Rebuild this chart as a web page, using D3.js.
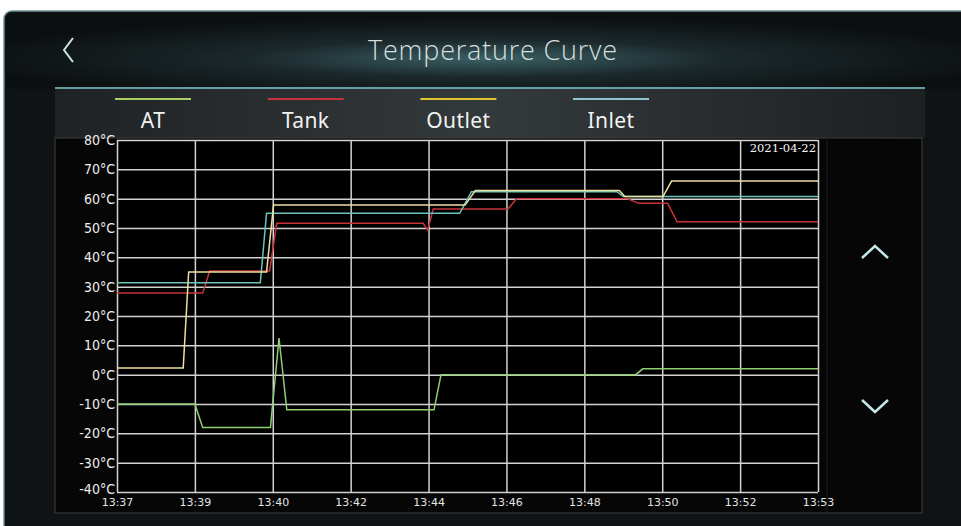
<!DOCTYPE html>
<html lang="en">
<head>
<meta charset="utf-8">
<title>Temperature Curve</title>
<script src="https://cdn.jsdelivr.net/npm/d3@7"></script>
<style>
  body { margin: 0; background: #fff; }
  svg { display: block; }
  .grid line { stroke: #d2d2d2; stroke-width: 1.5; }
  .grid path { display: none; }
  .ylab text { font-family: "DejaVu Sans Condensed", "DejaVu Sans", sans-serif; font-size: 14px; fill: #ececec; }
  .xlab text { font-family: "DejaVu Sans", sans-serif; font-size: 11px; fill: #e4e4e4; }
</style>
</head>
<body>
<script>
// series names and the tick labels
var seriesNames = ["AT", "Tank", "Outlet", "Inlet"];
var timeLabels = ["13:37", "13:39", "13:40", "13:42", "13:44", "13:46", "13:48", "13:50", "13:52", "13:53"];
var tempTicks = [-40, -30, -20, -10, 0, 10, 20, 30, 40, 50, 60, 70, 80];

// points are [position on the time axis (grid steps), °C]
var atPoints = [[0, -10], [1.0, -10], [1.10, -18], [1.97, -18], [2.08, 12.5], [2.18, -12], [4.07, -12], [4.16, 0], [6.66, 0], [6.75, 2], [9, 2]];
var tankPoints = [[0, 27.8], [1.10, 27.8], [1.19, 35.3], [1.96, 35.3], [2.05, 51.6], [3.93, 51.6], [3.99, 49.3], [4.06, 56.5], [5.02, 56.5], [5.13, 60], [6.55, 60], [6.70, 58.4], [7.07, 58.4], [7.19, 52.1], [9, 52.1]];
var outletPoints = [[0, 2.3], [0.85, 2.3], [0.92, 35], [1.92, 35], [2.01, 57.8], [4.47, 57.8], [4.60, 62.8], [6.45, 62.8], [6.52, 60.7], [7.01, 60.7], [7.12, 66], [9, 66]];
var inletPoints = [[0, 31.3], [1.84, 31.3], [1.92, 55], [4.40, 55], [4.55, 62.4], [6.42, 62.4], [6.50, 60.7], [9, 60.7]];
var dateLabel = "2021-04-22";

var w = 961, h = 526;
var plot = { left: 117, right: 818, top: 140, bottom: 492 };
var lineColors = ["#8fcf74", "#c8323b", "#efe0a0", "#6cc4bc"];
var legendColors = ["#a9cf62", "#c4323c", "#e2c52a", "#8cc6cf"];

var svg = d3.select("body").append("svg")
  .attr("width", w)
  .attr("height", h);

var defs = svg.append("defs");

var glow = defs.append("radialGradient").attr("id", "glow")
  .attr("cx", "50%").attr("cy", "60%").attr("r", "55%");
glow.append("stop").attr("offset", "0%").attr("stop-color", "#3a6064");
glow.append("stop").attr("offset", "45%").attr("stop-color", "#1b282b");
glow.append("stop").attr("offset", "100%").attr("stop-color", "#0c0f10");

var band = defs.append("linearGradient").attr("id", "band");
band.append("stop").attr("offset", "0%").attr("stop-color", "#1e2224");
band.append("stop").attr("offset", "50%").attr("stop-color", "#34393b");
band.append("stop").attr("offset", "100%").attr("stop-color", "#1c2022");

var blur = defs.append("filter").attr("id", "soft")
  .attr("x", "-10%").attr("y", "-200%").attr("width", "120%").attr("height", "500%");
blur.append("feGaussianBlur").attr("stdDeviation", 1.6);

// screen frame
svg.append("rect")
  .attr("x", 4).attr("y", 11)
  .attr("width", w + 20).attr("height", h)
  .attr("rx", 8)
  .attr("fill", "#101314")
  .attr("stroke", "#6f8e92")
  .attr("stroke-width", 1.5);

svg.append("rect")
  .attr("x", 6).attr("y", 13)
  .attr("width", w).attr("height", 76)
  .attr("rx", 6)
  .attr("fill", "url(#glow)");

// legend band
svg.append("rect")
  .attr("x", 55).attr("y", 89)
  .attr("width", 870).attr("height", 49)
  .attr("fill", "url(#band)");

// teal separator
svg.append("line")
  .attr("x1", 55).attr("x2", 925).attr("y1", 88).attr("y2", 88)
  .attr("stroke", "#4fc2c4").attr("stroke-width", 4)
  .attr("filter", "url(#soft)").attr("opacity", 0.8);
svg.append("line")
  .attr("x1", 55).attr("x2", 925).attr("y1", 88).attr("y2", 88)
  .attr("stroke", "#7fcfd0").attr("stroke-width", 1.5);

// back arrow
svg.append("path")
  .attr("d", "M73,38 L64,50 L73,62")
  .attr("fill", "none")
  .attr("stroke", "#cde6e6")
  .attr("stroke-width", 2);

// title
svg.append("text")
  .attr("x", 493).attr("y", 60)
  .attr("text-anchor", "middle")
  .attr("font-family", "Open Sans, sans-serif")
  .attr("font-weight", 300)
  .attr("font-size", "27px")
  .attr("letter-spacing", "0.8px")
  .attr("fill", "#d6dede")
  .text("Temperature Curve");

// legend
var legendX = d3.scalePoint().domain(seriesNames).range([153, 611]);
var legend = svg.selectAll(".legend")
  .data(seriesNames)
  .enter()
  .append("g")
  .attr("class", "legend")
  .attr("transform", function(d) { return "translate(" + legendX(d) + ",0)"; });
legend.append("line")
  .attr("x1", -38).attr("x2", 38)
  .attr("y1", 99).attr("y2", 99)
  .attr("stroke", function(d, i) { return legendColors[i]; })
  .attr("stroke-width", 2);
legend.append("text")
  .attr("x", 0).attr("y", 128)
  .attr("text-anchor", "middle")
  .attr("font-family", "Noto Sans, sans-serif")
  .attr("font-size", "21px")
  .attr("letter-spacing", "0.4px")
  .attr("fill", "#f2f2f2")
  .text(function(d) { return d; });

// chart panel
svg.append("rect")
  .attr("x", 55).attr("y", 138)
  .attr("width", 867).attr("height", 375)
  .attr("fill", "#060606")
  .attr("stroke", "#3c3f40");
svg.append("line")
  .attr("x1", 827).attr("x2", 827).attr("y1", 138).attr("y2", 513)
  .attr("stroke", "#1c1f20");
svg.append("rect")
  .attr("x", plot.left).attr("y", plot.top)
  .attr("width", plot.right - plot.left).attr("height", plot.bottom - plot.top)
  .attr("fill", "#000");

// scales
var xScale = d3.scaleLinear()
  .domain([0, timeLabels.length - 1])
  .range([plot.left, plot.right]);
var yScale = d3.scaleLinear()
  .domain([-40, 80])
  .range([plot.bottom, plot.top]);

var xAxis = d3.axisBottom(xScale)
  .tickValues(d3.range(timeLabels.length))
  .tickFormat(function(d) { return timeLabels[d]; })
  .tickSize(-(plot.bottom - plot.top))
  .tickPadding(6);
var yAxis = d3.axisLeft(yScale)
  .tickValues(tempTicks)
  .tickFormat(function(d) { return d + "°C"; })
  .tickSize(-(plot.right - plot.left))
  .tickPadding(2);

svg.append("g")
  .attr("class", "grid xlab")
  .attr("transform", "translate(0," + plot.bottom + ")")
  .call(xAxis);
var yG = svg.append("g")
  .attr("class", "grid ylab")
  .attr("transform", "translate(" + plot.left + ",0)")
  .call(yAxis);
// the lowest label sits just above the first time label
yG.selectAll(".tick text")
  .filter(function(d) { return d === -40; })
  .attr("dy", "0.1em");

// date stamp
svg.append("text")
  .attr("x", 816).attr("y", 152)
  .attr("text-anchor", "end")
  .attr("font-family", "DejaVu Serif, serif")
  .attr("font-size", "11.5px")
  .attr("fill", "#f6f6f6")
  .text(dateLabel);

// curves
var line = d3.line()
  .x(function(d) { return xScale(d[0]); })
  .y(function(d) { return yScale(d[1]); });

var allSeries = [atPoints, tankPoints, inletPoints, outletPoints];
var order = [0, 1, 3, 2];
svg.selectAll(".curve")
  .data(allSeries)
  .enter()
  .append("path")
  .attr("class", "curve")
  .attr("d", line)
  .attr("fill", "none")
  .attr("stroke", function(d, i) { return lineColors[order[i]]; })
  .attr("stroke-width", 1.5);

// scroll arrows
svg.append("path")
  .attr("d", "M862,258 L875,246 L888,258")
  .attr("fill", "none")
  .attr("stroke", "#c4e8e8")
  .attr("stroke-width", 2.5);
svg.append("path")
  .attr("d", "M862,400 L875,412 L888,400")
  .attr("fill", "none")
  .attr("stroke", "#c4e8e8")
  .attr("stroke-width", 2.5);
</script>
</body>
</html>
